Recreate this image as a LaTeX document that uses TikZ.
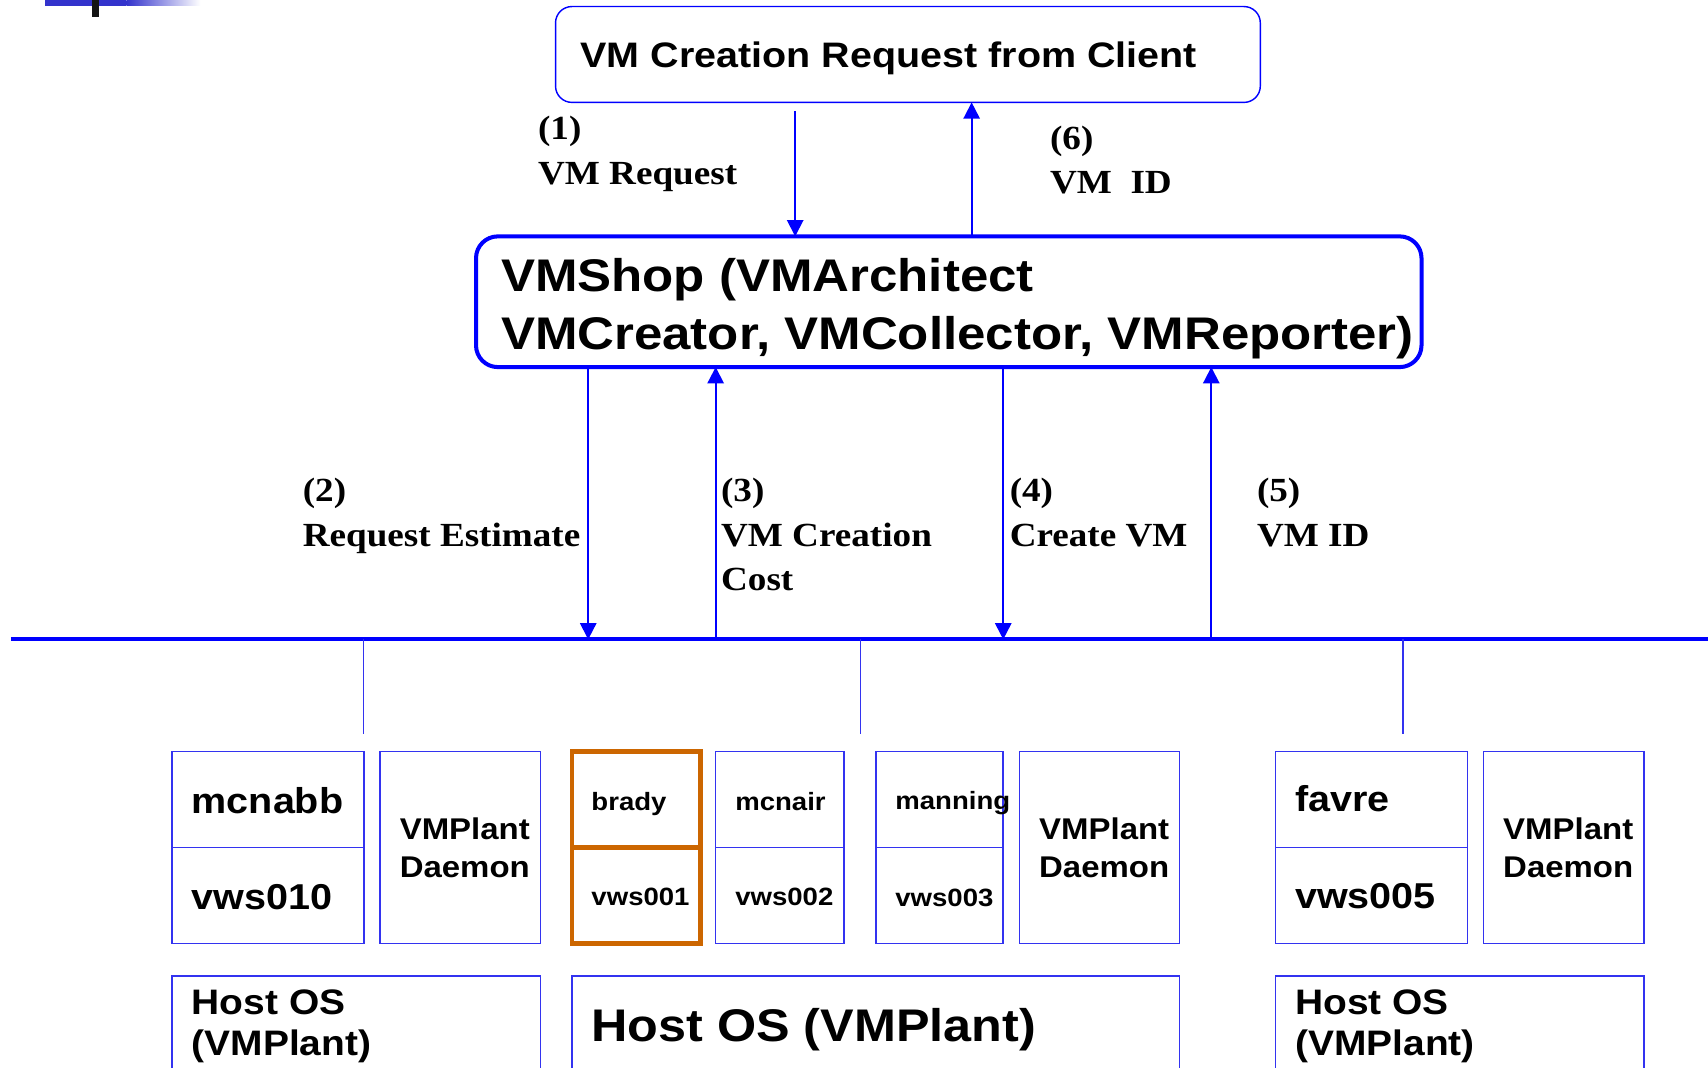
\documentclass[tikz,border=0pt]{standalone}
\usepackage{fontspec}
\setmainfont{Liberation Sans}
\newfontfamily\arialb[FakeStretch=1.1]{Liberation Sans}
\newfontfamily\arialw[FakeStretch=1.115]{Liberation Sans}
\newfontfamily\timesb[FakeStretch=1.1]{Liberation Serif}
\usetikzlibrary{arrows.meta}
\definecolor{pblue}{RGB}{0,0,255}
\definecolor{bblue}{RGB}{51,51,240}
\definecolor{orng}{RGB}{204,102,0}
\definecolor{barblue}{RGB}{51,51,204}
\begin{document}
\begin{tikzpicture}[x=1pt,y=-1pt,
  box/.style={draw=bblue, line width=1.4pt, rectangle, inner sep=0pt, outer sep=0pt, anchor=north west},
  obox/.style={draw=orng, line width=4pt, rectangle, inner sep=0pt, outer sep=0pt, anchor=north west},
  arr/.style={draw=pblue, line width=1.8pt, -{Triangle[width=15pt,length=15pt]}},
  thinl/.style={draw=bblue, line width=1.2pt},
  txt/.style={anchor=base west, inner sep=0pt, outer sep=0pt},
  lbl/.style={txt, font=\timesb\bfseries\fontsize{31}{31}\selectfont},
  big/.style={txt, font=\arialb\bfseries\fontsize{33}{33}\selectfont},
  small/.style={txt, font=\arialb\bfseries\fontsize{23}{23}\selectfont},
  daemon/.style={txt, font=\arialb\bfseries\fontsize{27.5}{27.5}\selectfont},
  host/.style={txt, font=\arialb\bfseries\fontsize{32.5}{32.5}\selectfont}
]
\useasboundingbox (0,0) rectangle (1568,980);
\clip (0,0) rectangle (1568,980);
\fill[white] (0,0) rectangle (1568,980);

% top-left decoration
\fill[barblue] (41,0) rectangle (116,5.2);
\shade[left color=barblue, right color=white] (116,0) rectangle (184,5.2);
\fill[black!92] (84.5,0) rectangle (91,15.3);

% client box
\node[draw=pblue, line width=1.3pt, rounded corners=15pt, rectangle, inner sep=0pt, outer sep=0pt,
      anchor=north west, minimum width=647pt, minimum height=88pt] (client) at (510,6) {};
\node[txt, font=\arialw\bfseries\fontsize{32.5}{32.5}\selectfont] (clientT) at (533,62) {VM Creation Request from Client};

% VMShop box
\node[draw=pblue, line width=3.7pt, rounded corners=20pt, rectangle, inner sep=0pt, outer sep=0pt,
      anchor=north west, minimum width=868pt, minimum height=120pt] (shop) at (437,217) {};
\node[txt, font=\arialw\bfseries\fontsize{42}{42}\selectfont] (shopA) at (460,268) {VMShop (VMArchitect};
\node[txt, font=\arialw\bfseries\fontsize{42}{42}\selectfont] (shopB) at (460,321) {VMCreator, VMCollector, VMReporter)};

% arrows between client and shop
\coordinate (c1) at (730,102);
\coordinate (c6) at (892,0);
\draw[arr] (c1) -- (c1 |- shop.north);
\draw[arr] (c6 |- shop.north) -- (c6 |- client.south);
\node[lbl] (l1a) at (494,128) {(1)};
\node[lbl] (l1b) at (494,169) {VM Request};
\node[lbl] (l6a) at (964,137) {(6)};
\node[lbl] (l6b) at (964,178) {VM\ \ ID};

% bus
\coordinate (busL) at (10,587);
\coordinate (busR) at (1568,587);
\draw[pblue, line width=3.8pt] (busL) -- (busR);

% arrows between shop and bus
\coordinate (c2) at (540,0);
\coordinate (c3) at (657,0);
\coordinate (c4) at (921,0);
\coordinate (c5) at (1112,0);
\draw[arr] (c2 |- shop.south) -- (c2 |- busL);
\draw[arr] (c3 |- busL) -- (c3 |- shop.south);
\draw[arr] (c4 |- shop.south) -- (c4 |- busL);
\draw[arr] (c5 |- busL) -- (c5 |- shop.south);
\node[lbl] (l2a) at (278,460) {(2)};
\node[lbl] (l2b) at (278,502) {Request Estimate};
\node[lbl] (l3a) at (662,460) {(3)};
\node[lbl] (l3b) at (662,502) {VM Creation};
\node[lbl] (l3c) at (662,542) {Cost};
\node[lbl] (l4a) at (927,460) {(4)};
\node[lbl] (l4b) at (927,502) {Create VM};
\node[lbl] (l5a) at (1154,460) {(5)};
\node[lbl] (l5b) at (1154,502) {VM ID};

% drops
\coordinate (d1) at (334,674);
\coordinate (d2) at (790,674);
\coordinate (d3) at (1288,674);
\draw[thinl] (d1 |- busL) -- (d1);
\draw[thinl] (d2 |- busL) -- (d2);
\draw[thinl] (d3 |- busL) -- (d3);

% host 1
\node[box, minimum width=176pt, minimum height=88pt] (mcnabb) at (158,690) {};
\node[box, minimum width=176pt, minimum height=88pt] (vws010) at (158,778) {};
\node[big] (mcnabbT) at (176,747) {mcnabb};
\node[big] (vws010T) at (176,835) {vws010};
\node[box, minimum width=147pt, minimum height=176pt] (dm1) at (349,690) {};
\node[daemon] (dm1a) at (367,771) {VMPlant};
\node[daemon] (dm1b) at (367,806) {Daemon};
\node[box, minimum width=338pt, minimum height=120pt] (host1) at (158,896) {};
\node[host] (host1a) at (176,931) {Host OS};
\node[host] (host1b) at (176,969) {(VMPlant)};

% host 2
\node[box, minimum width=118pt, minimum height=88pt] (mcnair) at (657,690) {};
\node[box, minimum width=118pt, minimum height=88pt] (vws002) at (657,778) {};
\node[box, minimum width=117pt, minimum height=88pt] (manning) at (804,690) {};
\node[box, minimum width=117pt, minimum height=88pt] (vws003) at (804,778) {};
\node[box, minimum width=147pt, minimum height=176pt] (dm2) at (936,690) {};
\node[obox, minimum width=118pt, minimum height=88pt] (brady) at (525,690) {};
\node[obox, minimum width=118pt, minimum height=88pt] (vws001) at (525,778) {};
\node[small] (bradyT) at (543,744) {brady};
\node[small] (vws001T) at (543,831) {vws001};
\node[small] (mcnairT) at (675,744) {mcnair};
\node[small] (vws002T) at (675,831) {vws002};
\node[small] (manningT) at (822,743) {manning};
\node[small] (vws003T) at (822,832) {vws003};
\node[daemon] (dm2a) at (954,771) {VMPlant};
\node[daemon] (dm2b) at (954,806) {Daemon};
\node[box, minimum width=558pt, minimum height=120pt] (host2) at (525,896) {};
\node[txt, font=\arialb\bfseries\fontsize{42}{42}\selectfont] (host2T) at (543,956) {Host OS (VMPlant)};

% host 3
\node[box, minimum width=176pt, minimum height=88pt] (favre) at (1171,690) {};
\node[box, minimum width=176pt, minimum height=88pt] (vws005) at (1171,778) {};
\node[big] (favreT) at (1189,745) {favre};
\node[big] (vws005T) at (1189,834) {vws005};
\node[box, minimum width=147pt, minimum height=176pt] (dm3) at (1362,690) {};
\node[daemon] (dm3a) at (1380,771) {VMPlant};
\node[daemon] (dm3b) at (1380,806) {Daemon};
\node[box, minimum width=338pt, minimum height=120pt] (host3) at (1171,896) {};
\node[host] (host3a) at (1189,931) {Host OS};
\node[host] (host3b) at (1189,969) {(VMPlant)};
\end{tikzpicture}
\end{document}
